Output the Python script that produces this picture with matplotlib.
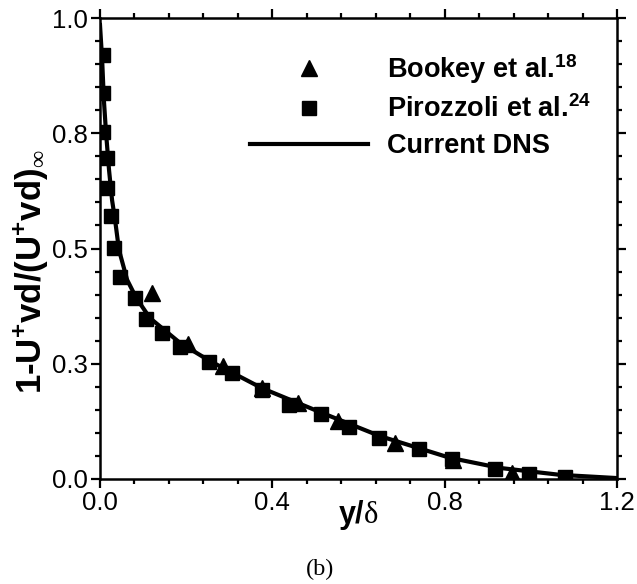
import matplotlib
matplotlib.use("Agg")
import matplotlib.pyplot as plt
from matplotlib.lines import Line2D
from matplotlib.ticker import MultipleLocator, FixedLocator

plt.rcParams["font.family"] = ["Liberation Sans", "DejaVu Sans"]
plt.rcParams["mathtext.fontset"] = "custom"
plt.rcParams["mathtext.rm"] = "Liberation Serif"
plt.rcParams["mathtext.bf"] = "Liberation Sans:bold"
plt.rcParams["mathtext.it"] = "Liberation Sans:italic"

# Bookey et al. (triangles)
bookey_x = [0.121, 0.204, 0.285, 0.376, 0.460, 0.552, 0.685, 0.819, 0.956]
bookey_y = [0.403, 0.293, 0.245, 0.197, 0.165, 0.126, 0.078, 0.041, 0.013]

# Pirozzoli et al. (squares)
piro_x = [0.007, 0.007, 0.007, 0.016, 0.016, 0.026, 0.032, 0.046, 0.081, 0.107,
          0.144, 0.186, 0.253, 0.306, 0.376, 0.439, 0.513, 0.578, 0.648, 0.740,
          0.817, 0.917, 0.996, 1.079]
piro_y = [0.920, 0.837, 0.753, 0.696, 0.631, 0.570, 0.501, 0.438, 0.393, 0.347,
          0.317, 0.286, 0.254, 0.230, 0.193, 0.161, 0.141, 0.113, 0.089, 0.065,
          0.043, 0.022, 0.011, 0.004]

# Current DNS profile
dns_x = [0.0, 0.005, 0.009, 0.014, 0.021, 0.028, 0.035, 0.044, 0.063, 0.084,
         0.116, 0.186, 0.255, 0.376, 0.511, 0.650, 0.812, 0.928, 1.068, 1.2]
dns_y = [0.985, 0.909, 0.822, 0.751, 0.670, 0.605, 0.562, 0.497, 0.432, 0.393,
         0.349, 0.295, 0.256, 0.197, 0.145, 0.093, 0.046, 0.024, 0.009, 0.002]

y_ticks = [0.0, 0.25, 0.5, 0.75, 1.0]
y_tick_labels = ["0.0", "0.3", "0.5", "0.8", "1.0"]
x_ticks = [0.0, 0.4, 0.8, 1.2]
x_tick_labels = ["0.0", "0.4", "0.8", "1.2"]

fig = plt.figure(figsize=(6.37, 5.84), dpi=100)
ax = fig.add_axes([100 / 637, 1 - 479 / 584, 517 / 637, 461 / 584])

ax.plot(dns_x, dns_y, color="black", lw=3.0, zorder=2)
ax.plot(bookey_x, bookey_y, ls="none", marker="^", ms=12, color="black", zorder=3)
ax.plot(piro_x, piro_y, ls="none", marker="s", ms=10.5, color="black", zorder=3)

ax.set_xlim(0, 1.2)
ax.set_ylim(0, 1.0)
ax.xaxis.set_major_locator(FixedLocator(x_ticks))
ax.set_xticklabels(x_tick_labels)
ax.xaxis.set_minor_locator(MultipleLocator(0.08))
ax.yaxis.set_major_locator(FixedLocator(y_ticks))
ax.set_yticklabels(y_tick_labels)
ax.yaxis.set_minor_locator(MultipleLocator(0.05))

for s in ax.spines.values():
    s.set_linewidth(1.8)
ax.tick_params(which="both", direction="out", top=True, right=True,
               labeltop=False, labelright=False, width=1.6)
ax.tick_params(which="major", length=6.5, labelsize=18.5, pad=2)
ax.tick_params(which="minor", length=3.5)

ax.set_xlabel(r"y/$\mathrm{\delta}$", fontsize=22, fontweight="bold")
ax.xaxis.label.set_va("center")
ax.xaxis.set_label_coords(0.5, -0.078)
ax.set_ylabel(r"1-U$^{\mathbf{+}}$vd/(U$^{\mathbf{+}}$vd)$_{\mathrm{\infty}}$",
              fontsize=25, fontweight="bold")
ax.yaxis.label.set_va("center")
ax.yaxis.set_label_coords(-0.135, 0.449)

handles = [
    Line2D([], [], ls="none", marker="^", ms=12, color="black"),
    Line2D([], [], ls="none", marker="s", ms=10.5, color="black"),
    Line2D([], [], color="black", lw=3.0),
]
labels = [r"Bookey et al.$^{\mathbf{18}}$", r"Pirozzoli et al.$^{\mathbf{24}}$",
          "Current DNS"]
leg = ax.legend(handles, labels, loc="upper left", bbox_to_anchor=(0.290, 0.926),
                frameon=False, borderpad=0, borderaxespad=0,
                handlelength=4.37, handletextpad=0.7,
                labelspacing=0.36, prop={"weight": "bold", "size": 19.5})

fig.text(320 / 637, 1 - 569 / 584, "(b)", ha="center", va="center",
         family="Liberation Serif", fontsize=17.5)

fig.savefig("out.png", dpi=100)
